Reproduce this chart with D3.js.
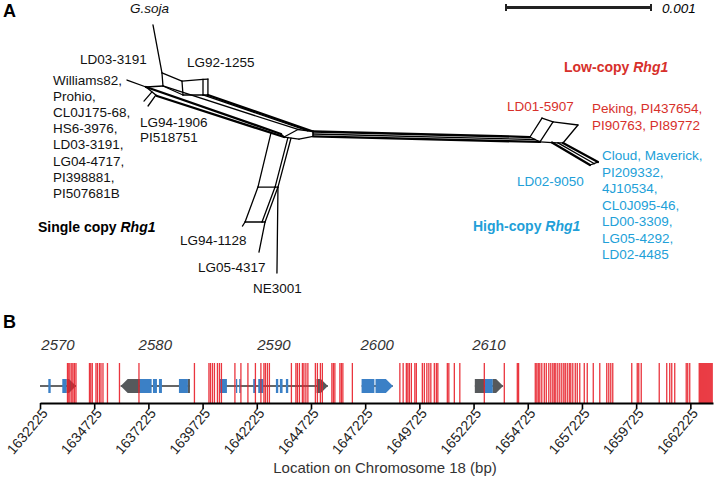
<!DOCTYPE html>
<html><head><meta charset="utf-8">
<script src="https://cdn.jsdelivr.net/npm/d3@7"></script>
<style>
body{margin:0;background:#fff;}
text{font-family:"Liberation Sans",Arial,Helvetica,sans-serif;}
</style></head>
<body><svg id="c" width="721" height="489"></svg>
<script>
// ---------- Panel A data: split network (units of 1e-5 substitutions/site) ----------
const netNodes = [
  ["gs",105.5,17.2],["g0",111.7,50.3],["g1",125.5,55.9],["g2",126.2,65.5],["g3",112.4,59.3],
  ["k1",143.4,54.5],["k2",143.4,65.5],["k3",140.0,54.8],["k4",140.0,65.5],
  ["wl",87.6,55.2],["w1",100.7,60.0],["w2",108.3,66.2],
  ["s1a",99.3,69.7],["s1b",104.8,63.4],["s2a",102.1,73.1],["s2b",107.6,65.5],
  ["h1",195.9,94.5],["h2",205.5,89.3],["h3",215.9,90.7],["hm",215.9,92.4],["h5",215.9,94.1],["h4",206.2,95.9],
  ["hb",193.8,92.4],["kk",212.4,90.2],
  ["P1",365.5,94.5],["P1b",369.0,96.2],["P6",372.4,97.9],["P2",373.8,81.4],["P3",381.4,84.1],
  ["P4",398.6,86.2],["P5",388.3,98.6],["P7",380.7,98.3],["P8",384.8,98.5],
  ["E1",406.9,113.8],["E2",409.7,112.8],["E3",412.4,111.7],
  ["bt1",186.9,91.7],["bt2",198.6,94.8],["bt3",200.7,95.2],
  ["Q1",177.9,129.0],["Q2b",189.7,129.0],["Q2",191.7,129.0],
  ["Q3",182.8,153.1],["Q3b",180.7,153.1],["Q4",169.0,153.1],
  ["L1",167.2,155.9],["L2",178.6,173.8],["L3",191.0,188.3]
];
const netEdges = [
  ["gs","g0"],["g0","g1"],["g1","g2"],["g2","g3"],["g3","g0"],
  ["g1","k3"],["k3","k1"],["k1","k2"],["k3","k4"],["g2","k4"],["k4","k2"],
  ["wl","w1"],["w1","g3"],["w1","w2"],["s1a","s1b"],["s2a","s2b"],
  ["g3","h2"],["w1","hb"],["w2","h1"],["hb","h1"],["k4","kk"],["k2","h3"],
  ["h1","h2"],["h2","kk"],["kk","h3"],["h3","hm"],["hm","h5"],["h5","h4"],["h4","h1"],
  ["h3","P1"],["hm","P1b"],["h5","P6"],["P1","P1b"],["P1b","P6"],
  ["P1","P2"],["P2","P3"],["P3","P4"],["P4","P5"],["P3","P6"],["P6","P7"],["P7","P8"],["P8","P5"],
  ["P7","E1"],["P8","E2"],["P5","E3"],["E1","E2"],["E2","E3"],
  ["bt1","Q1"],["bt2","Q2b"],["bt3","Q2"],
  ["Q1","Q2b"],["Q2b","Q2"],["Q1","Q4"],["Q2b","Q3b"],["Q2","Q3"],["Q4","Q3b"],["Q3b","Q3"],
  ["Q4","L1"],["Q3","L2"],["Q2","L3"]
];
const scaleBarValue = 0.001;

const singleCopyLabels = ["Williams82,","Prohio,","CL0J175-68,","HS6-3976,","LD03-3191,","LG04-4717,","PI398881,","PI507681B"];
const lowCopyLabels = ["Peking, PI437654,","PI90763, PI89772"];
const highCopyLabels = ["Cloud, Maverick,","PI209332,","4J10534,","CL0J095-46,","LD00-3309,","LG05-4292,","LD02-4485"];

// ---------- Panel B data ----------
const tickValues = [1632225,1634725,1637225,1639725,1642225,1644725,1647225,1649725,1652225,1654725,1657225,1659725,1662225];
const regionStart = 1632225, regionEnd = 1663270;
const genes = [
  {label:"2570", strand:1, start:1632225, end:1633885,
   parts:[[1632608,1632718,"cds"],[1633253,1633456,"cds"],[1633456,1633885,"utr"]]},
  {label:"2580", strand:-1, start:1635946, end:1639142,
   parts:[[1635946,1636836,"utr"],[1636836,1637375,"cds"],[1637435,1637620,"cds"],[1637712,1637850,"cds"],[1638634,1639049,"cds"],[1639049,1639142,"utr"]]},
  {label:"2590", strand:1, start:1640525, end:1645505,
   parts:[[1640525,1640848,"cds"],[1641263,1641323,"cds"],[1641415,1641478,"cds"],[1642060,1642184,"cds"],[1642292,1642522,"cds"],[1643107,1643214,"cds"],[1643291,1643414,"cds"],[1643568,1643675,"cds"],[1644983,1645505,"utr"]]},
  {label:"2600", strand:1, start:1647059, end:1648502,
   parts:[[1647059,1647650,"cds"],[1647700,1648502,"cds"]]},
  {label:"2610", strand:1, start:1652283, end:1653589,
   parts:[[1652283,1652744,"utr"],[1652744,1653113,"cds"],[1653113,1653589,"utr"]]}
];
const snpPositions = [1633493,1633553,1633608,1633691,1633747,1633816,1633885,1634507,1634567,1634637,1634807,1634876,1634969,1635038,1635130,1635337,1635891,1636790,1639349,1640018,1640087,1640179,1640271,1640410,1640502,1640594,1641216,1641493,1641816,1642162,1642415,1642554,1642623,1642715,1642807,1643822,1644029,1644098,1644191,1644329,1644398,1644490,1644582,1644928,1645021,1645159,1645251,1645689,1645758,1645827,1646058,1646127,1646196,1646634,1648825,1648977,1649124,1649193,1649263,1649355,1649516,1649585,1649862,1649954,1650070,1650162,1650254,1650415,1650508,1650577,1651015,1651084,1651338,1651591,1652721,1653643,1654243,1654302,1655072,1655142,1655211,1655280,1655372,1655488,1655580,1655695,1655787,1655879,1655949,1656018,1656110,1656202,1656294,1656387,1656456,1656548,1656640,1656709,1656802,1656917,1657009,1657124,1657332,1657470,1657747,1658047,1658369,1658462,1658554,1658646,1659522,1659776,1659845,1659960,1660790,1661136,1661274,1661367,1661505,1662035,1662104,1662197,1662635,1662681,1662727,1662773,1662819,1662865,1662911,1662957,1663003,1663049,1663095,1663141,1663187,1663233];

// ---------- drawing ----------
const RED = "#d7302b", BLUE = "#229fd8", FONT = "13.5px";
const svg = d3.select("#c");
svg.append("rect").attr("width",721).attr("height",489).attr("fill","#fff");

// Panel A
const xN = d3.scaleLinear().domain([0,100]).range([0,145]);
const yN = d3.scaleLinear().domain([0,100]).range([0,145]);
const nodeMap = new Map(netNodes.map(d => [d[0], d]));
const heavy = new Set(["w2-h1","w1-hb","h3-P1","h5-P6","P5-E3","P7-E1","k2-h3"]);
svg.append("g").selectAll("line").data(netEdges).join("line")
  .attr("x1", d => xN(nodeMap.get(d[0])[1])).attr("y1", d => yN(nodeMap.get(d[0])[2]))
  .attr("x2", d => xN(nodeMap.get(d[1])[1])).attr("y2", d => yN(nodeMap.get(d[1])[2]))
  .attr("stroke","#000").attr("stroke-linecap","round")
  .attr("stroke-width", d => heavy.has(d[0]+"-"+d[1]) ? 2.3 : 1.3);

// scale bar
const sbX = 506, sbY = 7.5, sbLen = xN(scaleBarValue*1e5) - xN(0);
const sb = svg.append("g");
sb.append("line").attr("x1",sbX).attr("x2",sbX+sbLen).attr("y1",sbY).attr("y2",sbY).attr("stroke","#222").attr("stroke-width",3);
[sbX, sbX+sbLen].forEach(x => sb.append("line").attr("x1",x).attr("x2",x).attr("y1",sbY-3.5).attr("y2",sbY+3.5).attr("stroke","#222").attr("stroke-width",2));
sb.append("text").attr("x",sbX+sbLen+11).attr("y",13).attr("font-size",FONT).attr("font-style","italic").text(scaleBarValue);

function txt(x,y,s,opt={}) {
  const t = svg.append("text").attr("x",x).attr("y",y).attr("font-size",opt.size||FONT)
    .attr("fill",opt.fill||"#111");
  if (opt.italic) t.attr("font-style","italic");
  if (opt.bold) t.attr("font-weight","bold");
  if (opt.anchor) t.attr("text-anchor",opt.anchor);
  t.text(s);
  return t;
}
txt(3,17,"A",{size:"18px",bold:true,fill:"#000"});
txt(130,13,"G.soja",{italic:true});
txt(80,64,"LD03-3191");
txt(187,67,"LG92-1255");
singleCopyLabels.forEach((s,i) => txt(53, 85 + i*16.1, s));
txt(140,127,"LG94-1906");
txt(140,142,"PI518751");
const sc = txt(38,232,"Single copy ",{bold:true,size:"14px",fill:"#000"});
sc.append("tspan").attr("font-style","italic").text("Rhg1");
txt(180,245,"LG94-1128");
txt(198,272,"LG05-4317");
txt(253,293,"NE3001");

const lc = txt(564,72,"Low-copy ",{bold:true,size:"14px",fill:RED});
lc.append("tspan").attr("font-style","italic").text("Rhg1");
txt(507,111,"LD01-5907",{fill:RED});
lowCopyLabels.forEach((s,i) => txt(592, 113 + i*17, s, {fill:RED}));
highCopyLabels.forEach((s,i) => txt(602, 160 + i*16.5, s, {fill:BLUE}));
txt(517,186,"LD02-9050",{fill:BLUE});
const hc = txt(473,231,"High-copy ",{bold:true,size:"14px",fill:BLUE});
hc.append("tspan").attr("font-style","italic").text("Rhg1");

// Panel B
txt(3,328,"B",{size:"18px",bold:true,fill:"#000"});
const xB = d3.scaleLinear().domain([regionStart, regionEnd]).range([40, 713]);
const axisY = 403, trackY = 386, half = 7, head = 7;
const gB = svg.append("g");
const geneG = gB.selectAll("g.gene").data(genes).join("g");
geneG.append("line").attr("x1",d=>xB(d.start)).attr("x2",d=>xB(d.end)).attr("y1",trackY).attr("y2",trackY)
  .attr("stroke","#333").attr("stroke-width",1.4);
geneG.each(function(g){
  const sel = d3.select(this);
  g.parts.forEach((p,i) => {
    const x0 = xB(p[0]), x1 = xB(p[1]);
    const fill = p[2]==="cds" ? "#3b80c6" : "#56595c";
    const isArrow = (g.strand===1 && i===g.parts.length-1) || (g.strand===-1 && i===0);
    let pts;
    if (isArrow && g.strand===1) {
      const h = Math.min(head, x1-x0);
      pts = [[x0,trackY-half],[x1-h,trackY-half],[x1,trackY],[x1-h,trackY+half],[x0,trackY+half]];
    } else if (isArrow) {
      const h = Math.min(head, x1-x0);
      pts = [[x1,trackY-half],[x0+h,trackY-half],[x0,trackY],[x0+h,trackY+half],[x1,trackY+half]];
    } else {
      pts = [[x0,trackY-half],[x1,trackY-half],[x1,trackY+half],[x0,trackY+half]];
    }
    sel.append("polygon").attr("points", pts.map(q=>q.join(",")).join(" ")).attr("fill",fill);
  });
  sel.append("text").attr("x", xB((g.start+g.end)/2)).attr("y",350).attr("text-anchor","middle")
    .attr("font-size","15px").attr("font-style","italic").attr("fill","#333").text(g.label);
});
gB.append("g").selectAll("line").data(snpPositions).join("line")
  .attr("x1",d=>xB(d)).attr("x2",d=>xB(d)).attr("y1",363).attr("y2",axisY)
  .attr("stroke","#e8202a").attr("stroke-width",1.3).attr("opacity",0.9);

const axis = d3.axisBottom(xB).tickValues(tickValues).tickSize(6).tickSizeOuter(0).tickFormat(d=>String(d));
const ax = gB.append("g").attr("transform",`translate(0,${axisY})`).call(axis);
ax.select(".domain").attr("stroke","#000").attr("stroke-width",2.2);
ax.selectAll(".tick line").attr("stroke","#000").attr("stroke-width",1.6);
ax.selectAll(".tick text").attr("x",-3).attr("y",8).attr("dy","0.35em")
  .attr("transform","rotate(-50)").style("text-anchor","end")
  .attr("font-size","14px").attr("fill","#222").attr("font-family","Liberation Sans, Arial, sans-serif");
txt(385,473,"Location on Chromosome 18 (bp)",{size:"15px",anchor:"middle",fill:"#333"});
</script></body></html>
